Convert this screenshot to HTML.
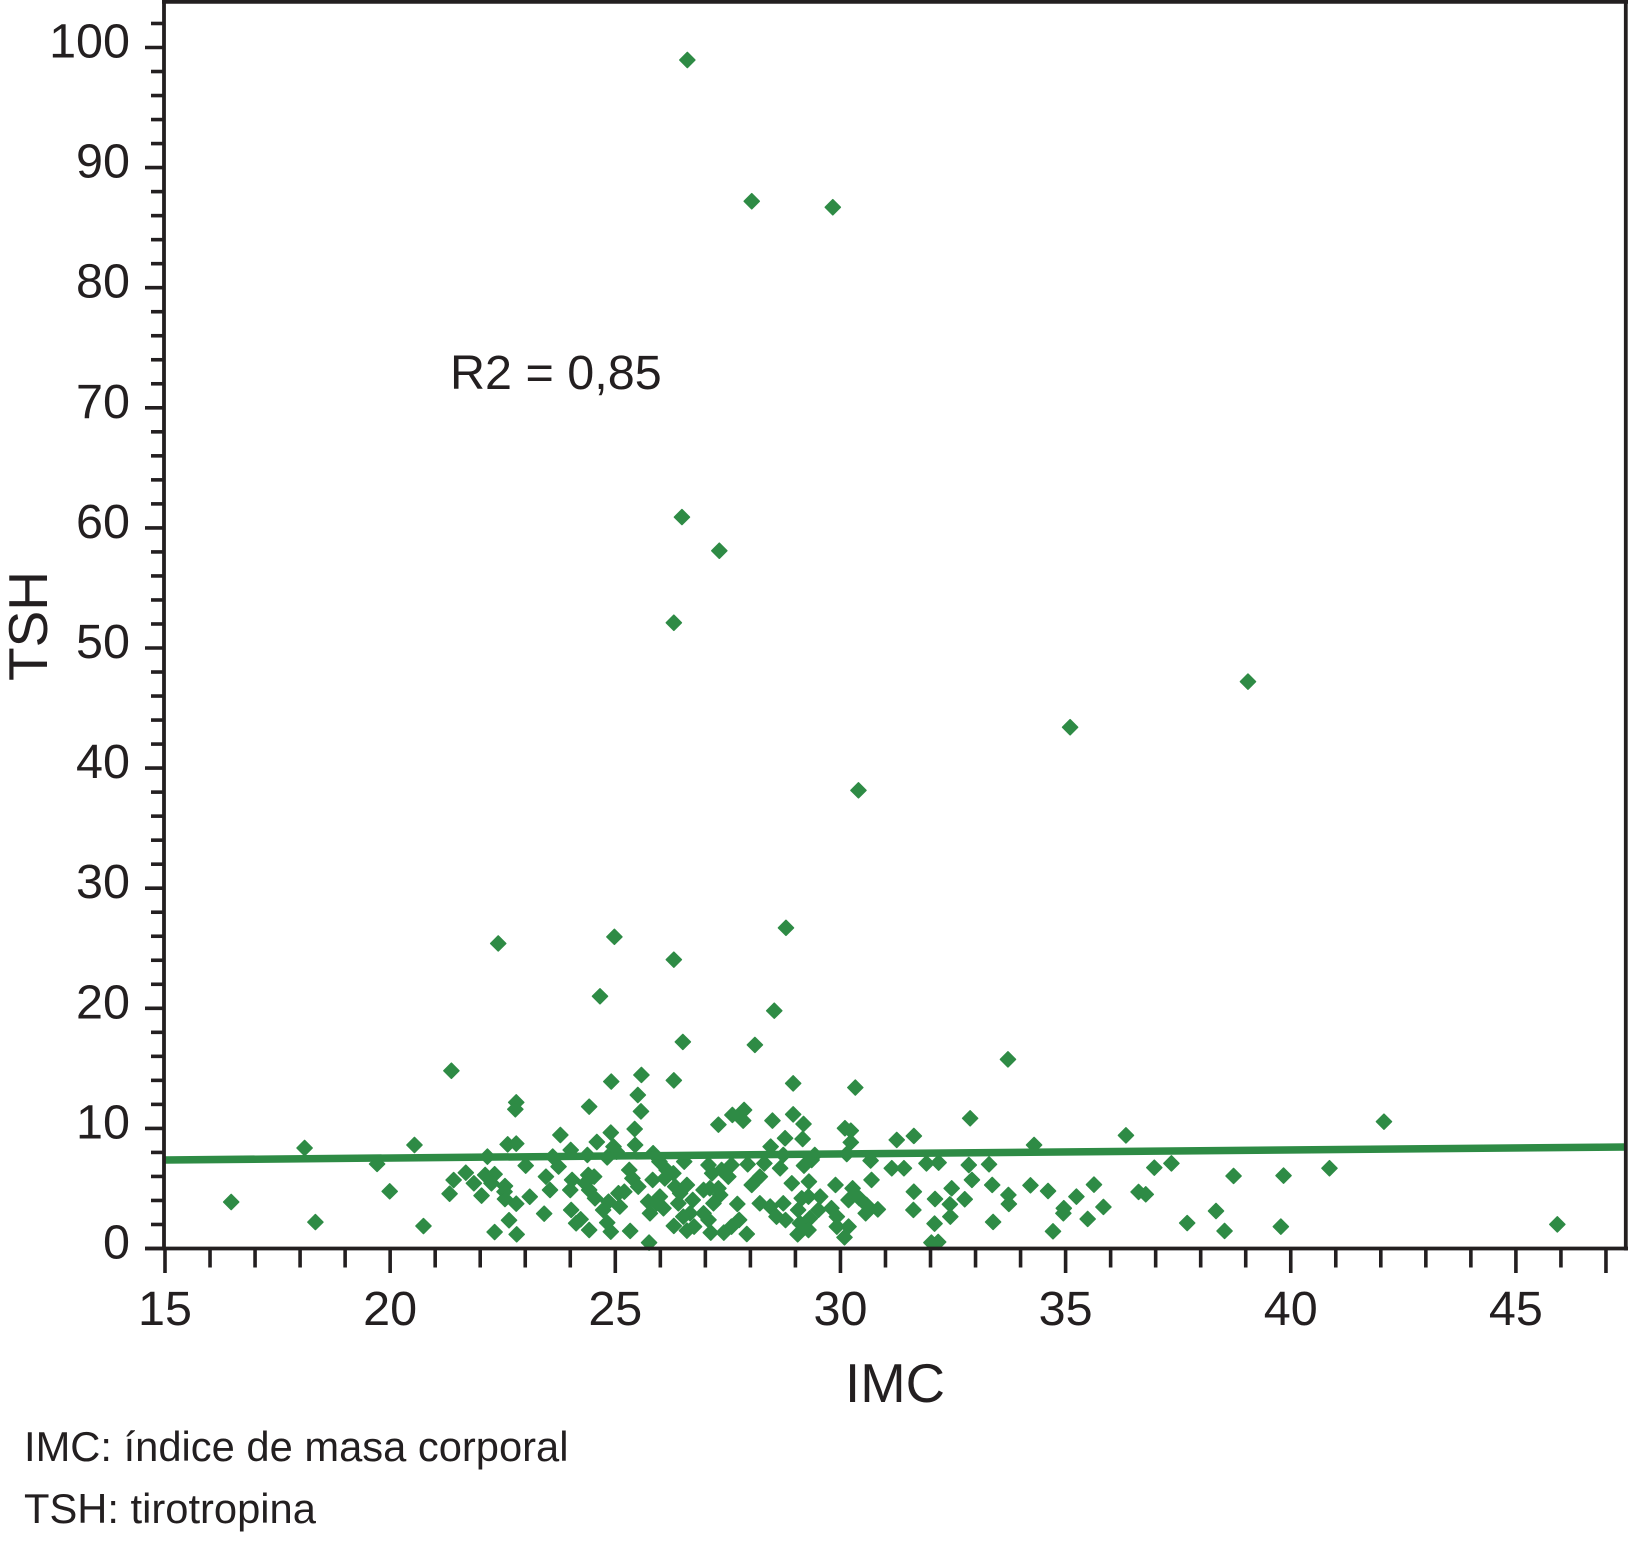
<!DOCTYPE html>
<html lang="es">
<head>
<meta charset="utf-8">
<title>TSH vs IMC</title>
<style>
html,body{margin:0;padding:0;background:#fff;width:1628px;height:1544px;overflow:hidden}
svg{display:block}
text{font-family:"Liberation Sans",Arial,sans-serif;fill:#231f20}
</style>
</head>
<body>
<svg id="chart" xmlns="http://www.w3.org/2000/svg" width="1628" height="1544" viewBox="0 0 1628 1544">
<rect x="0" y="0" width="1628" height="1544" fill="#ffffff"/>
<g id="points"></g>
<g id="fit"></g>
<g id="axes"></g>
<text x="450" y="389" font-size="48.5">R2 = 0,85</text>
<text x="895" y="1402" font-size="54.5" text-anchor="middle">IMC</text>
<text transform="translate(47,626) rotate(-90)" font-size="55" text-anchor="middle">TSH</text>
<text x="24" y="1461" font-size="41.7">IMC: índice de masa corporal</text>
<text x="24" y="1523" font-size="41.7">TSH: tirotropina</text>
</svg>
<script>
const bmi = [
26.6,28.03,29.83,26.48,27.31,26.3,39.05,35.1,30.4,28.79,24.98,22.4,26.3,24.66,28.53,26.5,28.1,33.72,21.36,25.58,24.91,26.3,28.95,30.33,
22.8,22.78,18.1,20.54,22.61,22.8,22.16,19.71,23.01,21.68,22.32,22.11,21.41,22.25,21.86,22.55,19.99,22.54,21.32,22.03,23.1,22.55,16.47,22.8,22.64,18.34,20.74,22.32,22.81,
23.42,23.55,23.46,23.78,23.61,23.74,24.01,24.0,24.04,24.02,24.13,24.23,24.42,24.42,24.59,24.38,24.9,
25.5,25.57,25.43,25.44,24.96,25.03,24.82,24.4,24.53,24.33,24.42,24.55,24.85,24.73,24.82,24.9,25.33,25.07,25.2,25.1,25.31,25.38,25.51,
25.75,25.83,25.84,25.98,26.14,26.29,26.1,26.53,25.73,25.77,25.99,25.92,26.07,26.33,26.44,26.59,26.72,26.4,26.66,26.51,26.3,26.59,26.75,
26.96,27.1,27.29,27.33,27.18,26.96,27.07,27.12,27.41,27.58,27.75,27.92,27.71,27.07,27.15,27.36,27.51,27.58,27.94,27.29,27.6,27.86,27.84,28.49,
28.95,29.18,28.77,29.16,28.45,28.73,28.31,28.66,29.19,29.43,29.36,28.03,28.21,28.92,29.3,29.89,28.21,28.44,28.73,28.58,28.78,29.06,29.14,29.29,29.55,29.51,29.8,29.92,29.1,29.32,29.29,29.05,
29.92,30.18,30.09,30.18,30.27,30.42,30.58,30.56,30.83,30.69,31.14,30.67,31.25,30.1,30.23,30.23,30.14,
32.88,31.63,34.3,36.34,42.07,31.41,31.91,32.18,32.85,33.3,32.92,33.37,31.63,32.47,32.1,32.43,32.76,31.62,32.44,32.09,33.39,33.73,33.74,34.22,34.61,34.72,34.96,34.95,35.24,35.63,35.84,35.49,
36.62,36.78,36.97,37.35,37.7,38.34,38.53,38.73,39.84,39.78,40.86,45.92,32.02,32.17
];
const tsh = [
98.96,87.2,86.7,60.9,58.1,52.1,47.2,43.4,38.15,26.7,25.95,25.4,24.05,21.0,19.8,17.2,16.95,15.75,14.8,14.45,13.9,14.0,13.75,13.4,
12.17,11.59,8.37,8.62,8.67,8.73,7.65,7.04,6.9,6.31,6.18,6.12,5.7,5.43,5.43,5.2,4.76,4.73,4.56,4.4,4.31,4.12,3.87,3.73,2.35,2.2,1.87,1.37,1.18,
2.9,4.87,5.98,9.45,7.65,6.82,8.2,4.87,5.71,3.21,2.1,2.43,1.54,11.81,8.87,7.79,9.65,
12.78,11.42,9.95,8.62,8.48,8.06,7.59,6.12,5.98,5.43,4.87,4.18,3.9,3.21,2.15,1.4,1.46,4.6,4.73,3.49,6.54,5.84,5.15,
0.49,5.71,7.93,7.23,6.54,6.26,5.84,7.23,3.9,2.93,4.32,3.76,3.35,5.15,4.6,5.29,4.04,3.76,2.93,2.65,1.88,1.49,1.82,
4.87,5.01,5.01,4.46,3.76,2.93,2.38,1.32,1.32,1.82,2.38,1.21,3.71,6.95,6.26,6.54,5.98,6.95,7.01,10.31,11.12,11.53,10.65,10.65,
11.17,10.37,9.18,9.12,8.48,7.79,7.09,6.68,6.9,7.79,7.37,5.29,5.98,5.43,5.57,5.29,3.76,3.49,3.76,2.65,2.37,3.21,4.18,4.32,4.32,3.21,3.35,2.65,2.1,2.51,1.54,1.18,
1.82,1.82,0.93,4.04,5.01,4.18,3.62,2.93,3.26,5.71,6.68,7.32,9.04,10.01,9.81,8.84,7.87,
10.84,9.37,8.62,9.42,10.56,6.68,7.09,7.15,6.95,7.01,5.71,5.29,4.73,5.01,4.12,3.68,4.1,3.21,2.65,2.07,2.21,4.46,3.71,5.26,4.79,1.43,3.35,2.93,4.32,5.32,3.46,2.46,
4.71,4.51,6.73,7.09,2.12,3.12,1.46,6.04,6.07,1.82,6.68,2.01,0.49,0.54
];
const fitBmi = [15, 47.45];
const fitTsh = [7.37, 8.45];
const xTickLabels = [15, 20, 25, 30, 35, 40, 45];
const xTickValues = [15,16,17,18,19,20,21,22,23,24,25,26,27,28,29,30,31,32,33,34,35,36,37,38,39,40,41,42,43,44,45,46,47];
const xLongTicks = [15, 20, 25, 30, 35, 40, 45, 47];
const yTickLabels = [0, 10, 20, 30, 40, 50, 60, 70, 80, 90, 100];
const yTickValues = [0,2,4,6,8,10,12,14,16,18,20,22,24,26,28,30,32,34,36,38,40,42,44,46,48,50,52,54,56,58,60,62,64,66,68,70,72,74,76,78,80,82,84,86,88,90,92,94,96,98,100,102];

const SVGNS = 'http://www.w3.org/2000/svg';
const GREEN = '#2e8b45';
const INK = '#231f20';
function sx(v) { return 165 + (v - 15) * 45.03; }
function sy(v) { return 1248.5 - v * 12.01; }
function make(tag, parent) {
  const el = document.createElementNS(SVGNS, tag);
  parent.appendChild(el);
  return el;
}
function strokeLine(el, x1, y1, x2, y2, color, width) {
  el.setAttribute('x1', x1);
  el.setAttribute('y1', y1);
  el.setAttribute('x2', x2);
  el.setAttribute('y2', y2);
  el.setAttribute('stroke', color);
  el.setAttribute('stroke-width', width);
}

const pointsLayer = document.getElementById('points');
bmi.forEach(function (b, i) {
  const cx = sx(b), cy = sy(tsh[i]), r = 7.6;
  const p = make('polygon', pointsLayer);
  
  
  p.setAttribute('points', [cx, cy - r, cx + r, cy, cx, cy + r, cx - r, cy].join(' '));
  p.setAttribute('fill', GREEN);
  p.setAttribute('stroke', GREEN);
  p.setAttribute('stroke-width', 1.4);
  p.setAttribute('stroke-linejoin', 'round');
});

const fitLayer = document.getElementById('fit');
const fitLine = make('line', fitLayer);


strokeLine(fitLine, sx(fitBmi[0]), sy(fitTsh[0]), sx(fitBmi[1]), sy(fitTsh[1]), GREEN, 7.5);

const axesLayer = document.getElementById('axes');
const topEdge = make('line', axesLayer);


strokeLine(topEdge, 162, 1.8, 1628, 1.8, INK, 3.8);
const rightEdge = make('line', axesLayer);


strokeLine(rightEdge, 1625.8, 0, 1625.8, 1250.5, INK, 3.8);
const yAxis = make('line', axesLayer);


strokeLine(yAxis, 164, 0, 164, 1250.5, INK, 3.8);
const xAxis = make('line', axesLayer);


strokeLine(xAxis, 145, 1248.5, 1628, 1248.5, INK, 3.8);

xTickValues.forEach(function (v) {
  const t = make('line', axesLayer);
  
  
  const len = xLongTicks.indexOf(v) >= 0 ? 24.5 : 19;
  strokeLine(t, sx(v), 1248.5, sx(v), 1248.5 + len, INK, 3.6);
});
yTickValues.forEach(function (v) {
  const t = make('line', axesLayer);
  
  
  const left = yTickLabels.indexOf(v) >= 0 ? 145 : 151;
  strokeLine(t, left, sy(v), 164, sy(v), INK, 3.6);
});
xTickLabels.forEach(function (v) {
  const t = make('text', axesLayer);
  
  
  t.setAttribute('x', sx(v));
  t.setAttribute('y', 1325);
  t.setAttribute('font-size', 48.5);
  t.setAttribute('text-anchor', 'middle');
  t.textContent = v;
});
yTickLabels.forEach(function (v) {
  const t = make('text', axesLayer);
  
  
  t.setAttribute('x', 130);
  t.setAttribute('y', sy(v) + 10);
  t.setAttribute('font-size', 48.5);
  t.setAttribute('text-anchor', 'end');
  t.textContent = v;
});
</script>
</body>
</html>
